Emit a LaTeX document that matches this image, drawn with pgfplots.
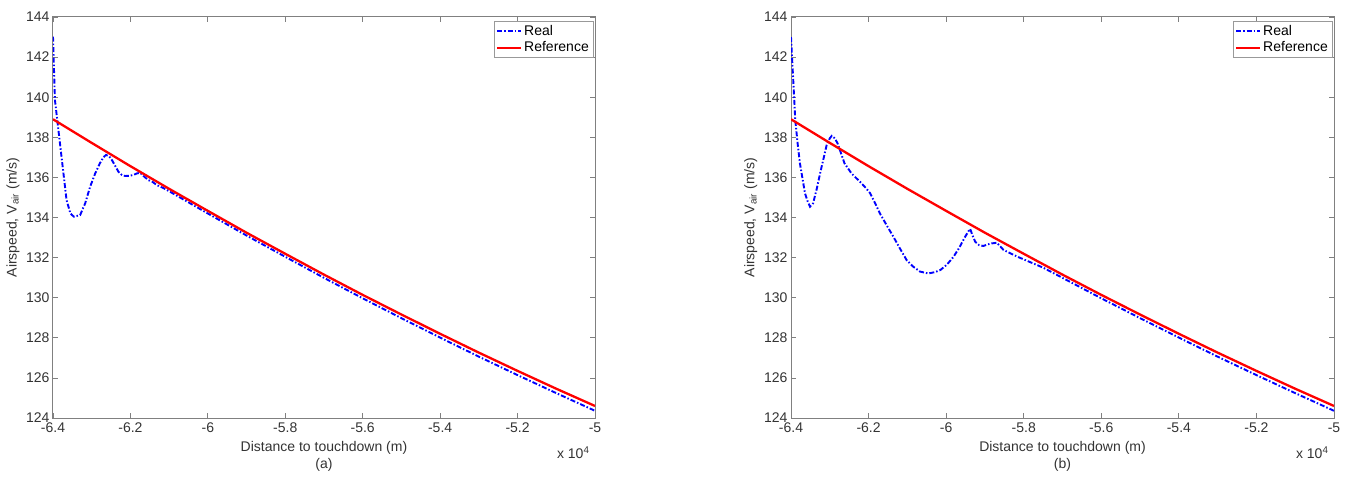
\documentclass[border=0pt]{standalone}
\usepackage{fontspec}
\setmainfont{Liberation Sans}
\usepackage{pgfplots}
\pgfplotsset{compat=1.18}
\usepackage{pgfplotstable}

\pgfplotstableread{
x y
-6.4 138.90
-6.3 137.72
-6.2 136.56
-6.1 135.43
-6.0 134.33
-5.9 133.24
-5.8 132.19
-5.7 131.15
-5.6 130.14
-5.5 129.16
-5.4 128.20
-5.3 127.26
-5.2 126.35
-5.1 125.46
-5.0 124.60
}\refdata

\pgfplotstableread{
x y
-6.400 143.02
-6.395 139.86
-6.389 138.86
-6.378 137.03
-6.365 134.87
-6.355 134.20
-6.346 134.04
-6.330 134.12
-6.317 134.70
-6.304 135.54
-6.291 136.20
-6.279 136.70
-6.270 137.00
-6.263 137.12
-6.255 137.05
-6.248 136.87
-6.240 136.60
-6.231 136.28
-6.222 136.12
-6.214 136.07
-6.203 136.08
-6.193 136.12
-6.183 136.20
-6.175 136.23
-6.165 136.05
-6.154 135.87
-6.143 135.78
-6.132 135.62
-6.115 135.47
-6.100 135.31
-6.000 134.20
-5.900 133.10
-5.800 132.04
-5.700 130.99
-5.600 129.97
-5.500 128.98
-5.400 128.01
-5.300 127.06
-5.200 126.14
-5.100 125.24
-5.000 124.36
}\realA

\pgfplotstableread{
x y
-6.400 143.00
-6.396 141.50
-6.392 140.02
-6.389 138.86
-6.383 137.70
-6.377 136.70
-6.370 135.90
-6.364 135.21
-6.357 134.80
-6.351 134.54
-6.343 134.71
-6.334 135.40
-6.325 136.20
-6.316 136.95
-6.308 137.62
-6.300 137.95
-6.295 138.07
-6.287 137.95
-6.280 137.70
-6.274 137.37
-6.262 136.70
-6.244 136.20
-6.231 135.95
-6.218 135.70
-6.207 135.47
-6.196 135.21
-6.184 134.75
-6.171 134.21
-6.153 133.60
-6.136 133.04
-6.119 132.45
-6.102 131.88
-6.085 131.55
-6.067 131.30
-6.046 131.21
-6.030 131.27
-6.015 131.38
-5.998 131.65
-5.981 132.04
-5.966 132.50
-5.951 133.04
-5.943 133.30
-5.938 133.43
-5.932 133.10
-5.925 132.79
-5.915 132.62
-5.904 132.58
-5.893 132.66
-5.882 132.71
-5.869 132.74
-5.860 132.55
-5.852 132.38
-5.834 132.21
-5.817 132.05
-5.800 131.91
-5.750 131.50
-5.700 130.99
-5.600 129.97
-5.500 128.98
-5.400 128.01
-5.300 127.06
-5.200 126.14
-5.100 125.24
-5.000 124.36
}\realB

\pgfplotsset{
  mystyle/.style={
    scale only axis,
    anchor=south west,
    height=401pt,
    xmin=-6.4, xmax=-5, ymin=124, ymax=144,
    xtick={-6.4,-6.2,-6,-5.8,-5.6,-5.4,-5.2,-5},
    ytick={124,126,...,144},
    /pgf/number format/assume math mode=true,
    tick label style={font=\fontsize{14}{16}\selectfont, text=black!80},
    xticklabel style={yshift=-1.5pt},
    label style={font=\fontsize{14}{17}\selectfont, text=black!80},
    tick align=inside,
    tick pos=both,
    major tick length=5pt,
    axis line style={draw=black!50, line width=1pt},
    every tick/.style={draw=black!50, line width=0.8pt},
    xlabel style={align=center, yshift=-2pt},
    ylabel={Airspeed, V\textsubscript{air} (m/s)},
    ylabel style={at={(axis description cs:-0.074,0.5)}, anchor=center},
    legend style={at={(1,1)}, anchor=north east, xshift=-2pt, yshift=-4pt,
      draw=black!40, fill=white, font=\fontsize{14}{16}\selectfont,
      inner sep=2pt, row sep=1pt, nodes={inner sep=2pt}},
    legend cell align=left,
    legend image code/.code={\draw[##1] (0pt,0pt) -- (24pt,0pt);},
    realstyle/.style={blue, line width=1.9pt, dash pattern=on 5pt off 2pt on 1.5pt off 2pt},
    refstyle/.style={red, line width=2.3pt},
  }
}

\begin{document}
\begin{tikzpicture}
\useasboundingbox (0,0) rectangle (1347pt,477pt);
\begin{axis}[mystyle, at={(53pt,59pt)}, width=542pt,
  xlabel={Distance to touchdown (m)\\(a)}]
\addplot[realstyle] table[x=x,y=y] {\realA};
\addlegendentry{Real}
\addplot[refstyle] table[x=x,y=y] {\refdata};
\addlegendentry{Reference}
\end{axis}
\node[anchor=east, font=\fontsize{14}{16}\selectfont, text=black!80] at (593pt,24pt) {x 10\textsuperscript{4}};

\begin{axis}[mystyle, at={(791pt,59pt)}, width=543pt,
  xlabel={Distance to touchdown (m)\\(b)}]
\addplot[realstyle] table[x=x,y=y] {\realB};
\addlegendentry{Real}
\addplot[refstyle] table[x=x,y=y] {\refdata};
\addlegendentry{Reference}
\end{axis}
\node[anchor=east, font=\fontsize{14}{16}\selectfont, text=black!80] at (1332pt,24pt) {x 10\textsuperscript{4}};
\end{tikzpicture}
\end{document}
